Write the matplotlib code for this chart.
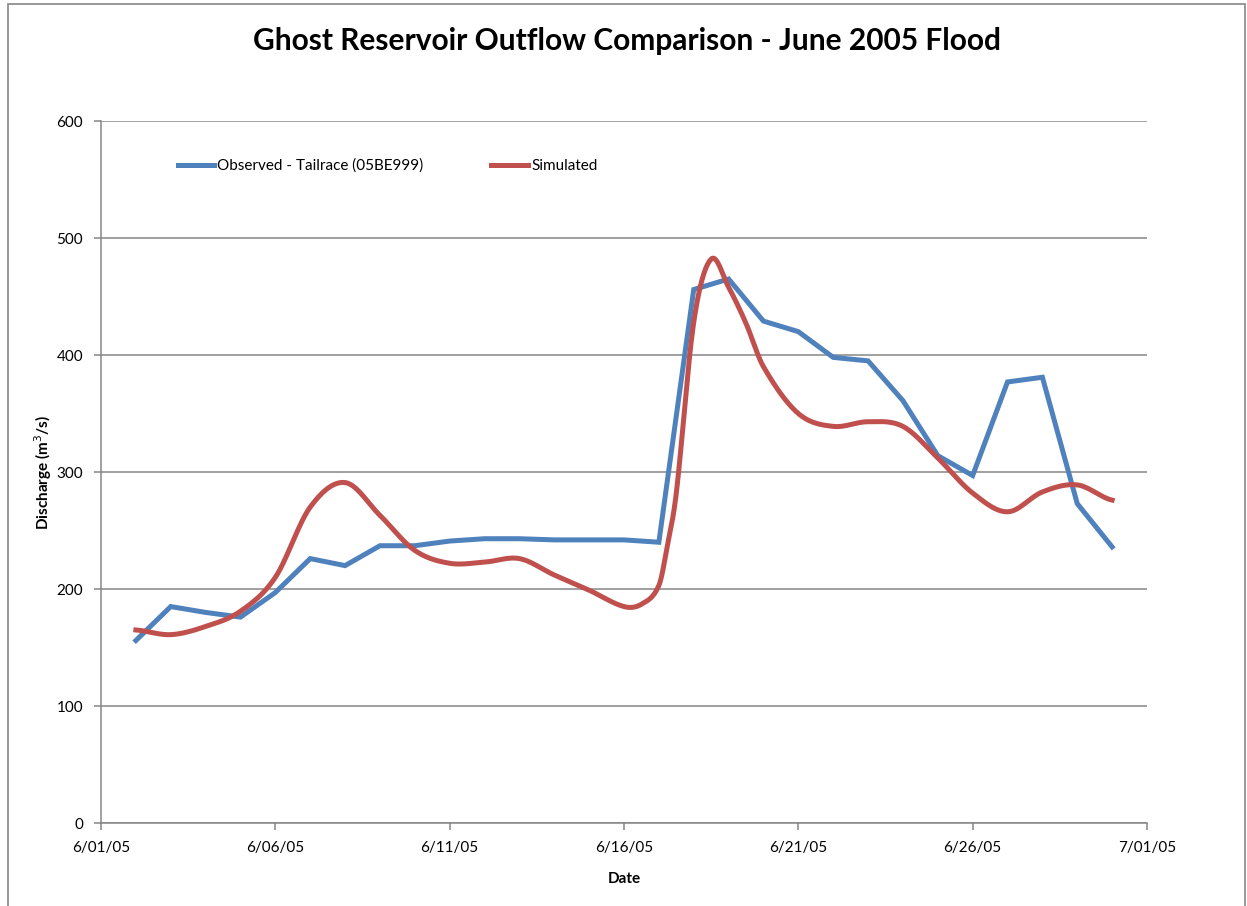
import numpy as np
import matplotlib
matplotlib.use("Agg")
import matplotlib.pyplot as plt
import matplotlib.dates as mdates
from matplotlib.ticker import FuncFormatter, MultipleLocator
from matplotlib.patches import Rectangle
import datetime as dt

# 观测值：每日（m3/s）
obs_days = [dt.datetime(2005, 6, d) for d in range(2, 31)]
observed = [156, 185, 180, 176, 197, 226, 220, 237, 237, 241, 243, 243, 242, 242,
            242, 240, 456, 465, 429, 420, 398, 395, 361, 314, 297, 377, 381, 273, 236]

# 模拟值：每日，洪峰附近读得更密（日期序号，6月几日）
sim_day = [2, 3, 4, 5, 6, 7, 8, 9, 10, 11, 12, 13, 14, 15, 16,
           16.5, 17, 17.25, 17.5, 18, 18.5, 19, 19.5, 20,
           21, 22, 23, 24, 25, 26, 27, 28, 29, 30]
simulated = [165, 161, 168, 181, 210, 270, 291, 263, 233, 222, 223, 226, 212, 199, 185,
             187, 203, 238, 282, 428, 482, 458, 427, 390,
             350, 339, 343, 339, 312, 282, 266, 283, 289, 276]

x_ticks = [dt.datetime(2005, 6, 1) + dt.timedelta(days=5 * i) for i in range(7)]

BLUE = "#4F81BD"
RED = "#C0504D"
GRID = "#868686"

plt.rcParams['font.family'] = ['Lato', 'DejaVu Sans']


# 平滑线（非均匀 Catmull-Rom -> 三次 Bezier）
def smooth(xs, ys, n=30):
    xs = np.asarray(xs, float)
    ys = np.asarray(ys, float)
    m = np.empty_like(ys)
    m[1:-1] = (ys[2:] - ys[:-2]) / (xs[2:] - xs[:-2])
    m[0] = (ys[1] - ys[0]) / (xs[1] - xs[0]) / 2
    m[-1] = (ys[-1] - ys[-2]) / (xs[-1] - xs[-2]) / 2
    t = np.linspace(0, 1, n)
    ox, oy = [], []
    for i in range(len(xs) - 1):
        h = xs[i + 1] - xs[i]
        y0, y3 = ys[i], ys[i + 1]
        y1 = y0 + m[i] * h / 3
        y2 = y3 - m[i + 1] * h / 3
        ox.extend(xs[i] + h * t)
        oy.extend((1 - t) ** 3 * y0 + 3 * (1 - t) ** 2 * t * y1 + 3 * (1 - t) * t ** 2 * y2 + t ** 3 * y3)
    return np.array(ox), np.array(oy)


fig = plt.figure(figsize=(12.47, 9.06), dpi=100)
ax = fig.add_axes([0.081, 0.0916, 0.8388, 0.7748])

ax.plot(mdates.date2num(obs_days), observed, color=BLUE, lw=3.6, solid_joinstyle='miter',
        label="Observed - Tailrace (05BE999)", zorder=3)
base = mdates.date2num(dt.datetime(2005, 6, 1)) - 1
sx, sy = smooth(base + np.array(sim_day), simulated)
ax.plot(sx, sy, color=RED, lw=3.6, label="Simulated", zorder=4)

ax.set_xlim(mdates.date2num(x_ticks[0]), mdates.date2num(x_ticks[-1]))
ax.set_ylim(0, 600)
ax.yaxis.set_major_locator(MultipleLocator(100))
ax.set_xticks(mdates.date2num(x_ticks))
ax.xaxis.set_major_formatter(FuncFormatter(
    lambda v, p: "{0.month}/{0.day:02d}/{0:%y}".format(mdates.num2date(v))))

ax.grid(axis='y', color=GRID, lw=1.1)
ax.set_axisbelow(True)
for s in ['top', 'right']:
    ax.spines[s].set_visible(False)
for s in ['left', 'bottom']:
    ax.spines[s].set_color(GRID)
    ax.spines[s].set_linewidth(1.1)
ax.tick_params(axis='both', colors=GRID, length=5, width=1.1, labelsize=11, labelcolor='black')
ax.tick_params(axis='x', pad=8)
ax.tick_params(axis='y', pad=8)

ax.set_xlabel("Date", fontsize=11, fontweight='bold', labelpad=12)
ax.set_ylabel("Discharge (m$^3$/s)", fontsize=11, fontweight='bold', labelpad=2)
fig.suptitle("Ghost Reservoir Outflow Comparison - June 2005 Flood",
             fontsize=21.5, fontweight='bold', x=0.503, y=0.970)

ax.legend(loc='upper left', bbox_to_anchor=(0.06, 0.966), ncol=2, frameon=False,
          fontsize=11, handlelength=2.4, handletextpad=0.2, columnspacing=4.45)

# 外框
fig.add_artist(Rectangle((8 / 1247, -0.1), (1245 - 8) / 1247, 1.1 - 4 / 906,
                         transform=fig.transFigure, fill=False, edgecolor=GRID, lw=1.2))

fig.savefig("out.png", dpi=100)
